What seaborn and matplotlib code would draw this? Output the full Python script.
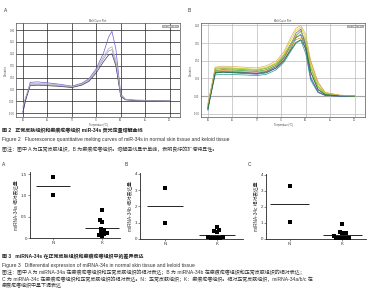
import matplotlib
matplotlib.use("Agg")
import matplotlib.pyplot as plt
import seaborn as sns
import pandas as pd
import numpy as np

# ---------------- data ----------------
temps_a = [60, 60.5, 61.5, 63, 65, 67.5, 70, 72, 73.5, 75, 76.5, 77.5, 78.2, 79, 80, 81, 83, 86, 90]
a_well1 = [-0.05, 0.0, 0.080, 0.082, 0.078, 0.072, 0.064, 0.076, 0.095, 0.138, 0.205, 0.270, 0.295, 0.220, 0.030, 0.008, 0.005, 0.004, 0.002]
a_well2 = [-0.03, 0.01, 0.070, 0.072, 0.070, 0.066, 0.060, 0.070, 0.088, 0.128, 0.180, 0.212, 0.218, 0.160, 0.022, 0.007, 0.004, 0.003, 0.001]
a_well3 = [-0.045, 0.0, 0.066, 0.068, 0.066, 0.063, 0.058, 0.068, 0.084, 0.120, 0.168, 0.195, 0.200, 0.150, 0.020, 0.006, 0.004, 0.003, 0.001]
a_well4 = [-0.02, 0.012, 0.074, 0.076, 0.074, 0.069, 0.062, 0.073, 0.092, 0.132, 0.190, 0.222, 0.230, 0.175, 0.026, 0.008, 0.005, 0.003, 0.002]

temps_b = [60, 60.5, 61.5, 63, 65, 67.5, 70, 72, 74, 75.5, 77, 78, 79, 80, 81, 82.5, 84, 87, 90]
b_well1 = [-0.035, 0.0, 0.072, 0.075, 0.074, 0.072, 0.070, 0.075, 0.088, 0.110, 0.145, 0.170, 0.185, 0.150, 0.070, 0.020, 0.004, 0.001, 0.0]
b_well2 = [-0.030, 0.005, 0.080, 0.082, 0.080, 0.078, 0.076, 0.082, 0.095, 0.120, 0.160, 0.185, 0.195, 0.165, 0.090, 0.030, 0.008, 0.002, 0.001]
b_well3 = [-0.040, -0.005, 0.065, 0.068, 0.066, 0.064, 0.062, 0.066, 0.080, 0.100, 0.135, 0.165, 0.175, 0.130, 0.050, 0.012, 0.002, 0.0, 0.0]
b_well4 = [-0.025, 0.010, 0.076, 0.078, 0.077, 0.075, 0.073, 0.079, 0.092, 0.115, 0.150, 0.168, 0.172, 0.145, 0.080, 0.025, 0.006, 0.002, 0.0]
b_well5 = [-0.030, 0.0, 0.070, 0.073, 0.071, 0.069, 0.068, 0.072, 0.085, 0.105, 0.140, 0.160, 0.165, 0.150, 0.100, 0.040, 0.010, 0.002, 0.0]
b_well6 = [-0.038, 0.0, 0.060, 0.062, 0.061, 0.060, 0.058, 0.062, 0.075, 0.095, 0.128, 0.150, 0.158, 0.120, 0.045, 0.010, 0.002, 0.0, 0.0]
b_well7 = [-0.032, 0.0, 0.068, 0.070, 0.069, 0.067, 0.065, 0.070, 0.084, 0.108, 0.148, 0.178, 0.190, 0.140, 0.055, 0.012, 0.002, 0.0, 0.0]
b_well8 = [-0.028, 0.006, 0.078, 0.080, 0.079, 0.077, 0.075, 0.080, 0.092, 0.112, 0.148, 0.172, 0.182, 0.160, 0.085, 0.028, 0.007, 0.002, 0.0]
b_well9 = [-0.036, 0.0, 0.066, 0.068, 0.067, 0.066, 0.064, 0.068, 0.080, 0.100, 0.132, 0.152, 0.160, 0.135, 0.068, 0.018, 0.004, 0.001, 0.0]
b_well10 = [-0.020, 0.010, 0.082, 0.085, 0.084, 0.082, 0.080, 0.086, 0.100, 0.125, 0.168, 0.192, 0.200, 0.175, 0.100, 0.035, 0.010, 0.003, 0.001]

groups = ["N", "K"]
mir34a_N = [1.43, 1.02]
mir34a_K = [0.65, 0.38, 0.43, 0.20, 0.18, 0.13, 0.10, 0.08, 0.12, 0.05]
mir34b_N = [3.10, 1.00]
mir34b_K = [0.75, 0.50, 0.40, 0.55, 0.15, 0.05, 0.05, 0.05, 0.05, 0.10]
mir34c_N = [3.30, 1.05]
mir34c_K = [0.93, 0.45, 0.35, 0.35, 0.18, 0.05, 0.05, 0.05, 0.05, 0.05]

melt_xticks = [60, 65, 70, 75, 80, 85, 90]
melt_a_yticks = [-0.05, 0.0, 0.05, 0.10, 0.15, 0.20, 0.25, 0.30]
melt_b_yticks = [-0.05, 0.0, 0.05, 0.10, 0.15, 0.20]

# ---------------- style ----------------
sns.set_theme(style="white")
plt.rcParams["font.family"] = ["Liberation Sans", "Noto Sans CJK SC"]
plt.rcParams["axes.unicode_minus"] = False

W, H = 371, 300
fig = plt.figure(figsize=(W / 100, H / 100), dpi=100)
fig.patch.set_facecolor("white")


def ax_px(l, t, r, b):
    return fig.add_axes([l / W, 1 - b / H, (r - l) / W, (b - t) / H])


def melt_panel(ax, temps, wells, colors, yticks, ylim, gridc, zero_dark):
    rows = []
    for i, w in enumerate(wells):
        for t, v in zip(temps, w):
            rows.append({"temp": t, "deriv": v, "well": f"w{i}"})
    df = pd.DataFrame(rows)
    sns.lineplot(data=df, x="temp", y="deriv", hue="well", palette=colors,
                 linewidth=0.5, legend=False, ax=ax, estimator=None, sort=False)
    ax.set_xlim(58.6, 92.1)
    ax.set_ylim(*ylim)
    ax.set_xticks(melt_xticks)
    ax.set_yticks(yticks)
    ax.set_xticklabels([str(x) for x in melt_xticks])
    ax.set_yticklabels([f"{y:.2f}" for y in yticks])
    ax.tick_params(labelsize=1.8, length=0, pad=1, colors="#444444")
    ax.grid(True, color=gridc, linewidth=0.5)
    if zero_dark:
        ax.axhline(0, color="#777777", linewidth=0.8, zorder=0)
    for s in ax.spines.values():
        s.set_color("#555555")
        s.set_linewidth(0.5)
    ax.set_xlabel("Temperature (°C)", fontsize=1.8, labelpad=0.5, color="#444444")
    ax.set_ylabel("Derivative", fontsize=1.8, labelpad=0.5, color="#444444")
    ax.set_title("Melt Curve Plot", fontsize=1.8, pad=1, color="#444444")
    ax.text(0.985, 0.975, "Target: miR-34s", transform=ax.transAxes, ha="right", va="top",
            fontsize=1.5, color="#444444",
            bbox=dict(boxstyle="square,pad=0.3", fc="white", ec="#666666", lw=0.4))


axA = ax_px(16, 23, 180, 117)
melt_panel(axA, temps_a, [a_well1, a_well2, a_well3, a_well4],
           ["#6a5acd", "#9a9ab0", "#3a3a70", "#b0b0b0"],
           melt_a_yticks, (-0.066, 0.33), "#222222", False)

axB = ax_px(201, 23, 365, 117)
melt_panel(axB, temps_b,
           [b_well1, b_well2, b_well3, b_well4, b_well5, b_well6, b_well7, b_well8, b_well9, b_well10],
           ["#2e9e2e", "#e0d020", "#3060c0", "#8a9a20", "#e09030", "#2a9a90", "#8050b0", "#a0d040", "#1e6e2e", "#d8b060"],
           melt_b_yticks, (-0.059, 0.207), "#bbbbbb", True)

fig.text(6 / W, 1 - 10 / H, "A", fontsize=3.5, ha="center", va="center", color="#333333")
fig.text(189 / W, 1 - 11 / H, "B", fontsize=3.5, ha="center", va="center", color="#333333")

# captions figure 2
cap_fs = 3.6
fig.text(2 / W, 1 - 131 / H, "图 2   正常皮肤组织和瘢痕疙瘩组织 miR-34s 荧光定量熔解曲线",
         fontsize=cap_fs, va="center", color="#222222", fontweight="bold")
fig.text(2 / W, 1 - 140 / H, "Figure 2   Fluorescence quantitative melting curves of miR-34s in normal skin tissue and keloid tissue",
         fontsize=cap_fs, va="center", color="#333333")
fig.text(2 / W, 1 - 149 / H, "图注：图中 A 为正常皮肤组织，B 为瘢痕疙瘩组织。熔解曲线显示单峰，表明良好的扩增特异性。",
         fontsize=cap_fs, va="center", color="#333333")


# ---------------- scatter panels ----------------
def scatter_panel(ax, nvals, kvals, ylabel, yticks, yticklabels, ylim, xlim, halfw):
    df = pd.DataFrame({"group": ["N"] * len(nvals) + ["K"] * len(kvals),
                       "val": nvals + kvals})
    sns.swarmplot(data=df, x="group", y="val", order=groups, color="black",
                  marker="s", size=2.2, ax=ax)
    means = df.groupby("group")["val"].mean()
    for i, g in enumerate(groups):
        ax.hlines(means[g], i - halfw, i + halfw, color="black", linewidth=0.6)
    ax.set_xlim(*xlim)
    ax.set_ylim(*ylim)
    ax.set_yticks(yticks)
    ax.set_yticklabels(yticklabels)
    ax.set_xlabel("")
    ax.set_ylabel(ylabel, fontsize=3.4, labelpad=2, color="#333333")
    ax.tick_params(labelsize=3.2, length=1.2, width=0.4, pad=1, colors="#333333")
    ax.tick_params(axis="both", which="both", left=True, bottom=True)
    for s in ["top", "right"]:
        ax.spines[s].set_visible(False)
    for s in ["left", "bottom"]:
        ax.spines[s].set_color("#222222")
        ax.spines[s].set_linewidth(0.6)


axa = ax_px(30, 172, 120, 238)
scatter_panel(axa, mir34a_N, mir34a_K, "miRNA-34a 相对表达量",
              [0, 0.5, 1.0, 1.5], ["0", "0.5", "1.0", "1.5"], (0, 1.55), (-0.47, 1.37), 0.35)
axb = ax_px(140, 173, 243, 239)
scatter_panel(axb, mir34b_N, mir34b_K, "miRNA-34b 相对表达量",
              [0, 1, 2, 3, 4], ["0", "1", "2", "3", "4"], (0, 4.05), (-0.48, 1.5), 0.34)
axc = ax_px(266, 174, 366, 239)
scatter_panel(axc, mir34c_N, mir34c_K, "miRNA-34c 相对表达量",
              [0, 1, 2, 3, 4], ["0", "1", "2", "3", "4"], (0, 4.05), (-0.45, 1.45), 0.37)

fig.text(4 / W, 1 - 164 / H, "A", fontsize=3.5, ha="center", va="center", color="#333333")
fig.text(126 / W, 1 - 164 / H, "B", fontsize=3.5, ha="center", va="center", color="#333333")
fig.text(249 / W, 1 - 165 / H, "C", fontsize=3.5, ha="center", va="center", color="#333333")

# captions figure 3
fig.text(2 / W, 1 - 257 / H, "图 3   miRNA-34s 在正常皮肤组织和瘢痕疙瘩组织中的差异表达",
         fontsize=cap_fs, va="center", color="#222222", fontweight="bold")
fig.text(2 / W, 1 - 265 / H, "Figure 3   Differential expression of miRNA-34s in normal skin tissue and keloid tissue",
         fontsize=cap_fs, va="center", color="#333333")
fig.text(2 / W, 1 - 272 / H, "图注：图中 A 为 miRNA-34a 在瘢痕疙瘩组织和正常皮肤组织的相对表达；B 为 miRNA-34b 在瘢痕疙瘩组织和正常皮肤组织的相对表达；",
         fontsize=cap_fs, va="center", color="#333333")
fig.text(2 / W, 1 - 279 / H, "C 为 miRNA-34c 在瘢痕疙瘩组织和正常皮肤组织的相对表达。N：正常皮肤组织；K：瘢痕疙瘩组织。相对正常皮肤组织，miRNA-34a/b/c 在",
         fontsize=cap_fs, va="center", color="#333333")
fig.text(2 / W, 1 - 286 / H, "瘢痕疙瘩组织中呈下调表达",
         fontsize=cap_fs, va="center", color="#333333")

fig.savefig("out.png", dpi=100, facecolor="white")
